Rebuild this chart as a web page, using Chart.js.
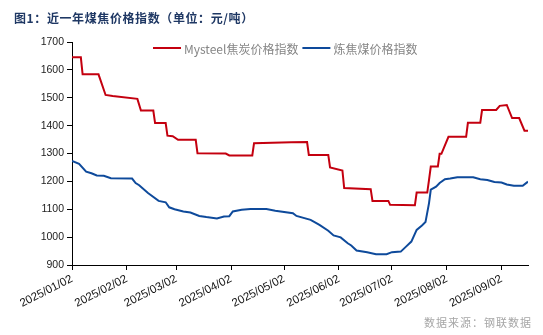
<!DOCTYPE html>
<html>
<head>
<meta charset="utf-8">
<script src="https://cdn.jsdelivr.net/npm/chart.js@4.4.1/dist/chart.umd.min.js"></script>
<style>
  html, body { margin: 0; padding: 0; background: #fff; }
  #wrap { position: relative; width: 543px; height: 335px; overflow: hidden; }
  canvas { position: absolute; left: 0; top: 0; }
  #title { position: absolute; left: 14px; top: 9px; font: bold 12px "Noto Sans CJK SC"; color: #1f3864; letter-spacing: 0.6px; white-space: nowrap; line-height: 17px; }
  #source { position: absolute; right: 11px; top: 314px; font: 11px "Noto Sans CJK SC"; color: #a6a6a6; letter-spacing: 1px; white-space: nowrap; line-height: 16px; }
</style>
</head>
<body>
<div id="wrap">
  <canvas id="chart" width="543" height="335"></canvas>
  <div id="title">图1：近一年煤焦价格指数（单位：元/吨）</div>
  <div id="source">数据来源：钢联数据</div>
</div>
<script>
// Mysteel 焦炭价格指数 (元/吨)
const cokeDates = ['2025-01-02','2025-01-07','2025-01-08','2025-01-17','2025-01-21','2025-01-25','2025-02-08','2025-02-10','2025-02-17','2025-02-18','2025-02-24','2025-02-25','2025-02-28','2025-03-03','2025-03-13','2025-03-14','2025-03-30','2025-04-01','2025-04-14','2025-04-15','2025-05-06','2025-05-15','2025-05-16','2025-05-27','2025-05-28','2025-06-04','2025-06-05','2025-06-20','2025-06-21','2025-06-30','2025-07-01','2025-07-15','2025-07-16','2025-07-22','2025-07-23','2025-07-24','2025-07-28','2025-07-29','2025-07-30','2025-08-03','2025-08-13','2025-08-14','2025-08-21','2025-08-22','2025-08-30','2025-09-01','2025-09-05','2025-09-08','2025-09-12','2025-09-15','2025-09-17'];
const cokeValues = [1645,1645,1584,1584,1510,1506,1496,1454,1454,1409,1409,1364,1362,1349,1349,1301,1300,1293,1293,1337,1340,1341,1295,1295,1250,1239,1176,1172,1130,1130,1116,1114,1160,1160,1205,1253,1253,1299,1299,1360,1360,1410,1410,1456,1456,1471,1474,1427,1427,1382,1382];

// 炼焦煤价格指数 (元/吨)
const coalDates = ['2025-01-02','2025-01-06','2025-01-10','2025-01-13','2025-01-16','2025-01-20','2025-01-24','2025-02-05','2025-02-07','2025-02-09','2025-02-14','2025-02-20','2025-02-24','2025-02-26','2025-03-01','2025-03-06','2025-03-10','2025-03-15','2025-03-19','2025-03-25','2025-03-29','2025-04-01','2025-04-03','2025-04-08','2025-04-13','2025-04-22','2025-04-27','2025-05-07','2025-05-09','2025-05-17','2025-05-22','2025-05-27','2025-05-30','2025-06-03','2025-06-07','2025-06-09','2025-06-12','2025-06-18','2025-06-23','2025-06-29','2025-07-02','2025-07-07','2025-07-10','2025-07-13','2025-07-16','2025-07-19','2025-07-21','2025-07-23','2025-07-24','2025-07-27','2025-07-29','2025-08-01','2025-08-04','2025-08-08','2025-08-17','2025-08-21','2025-08-25','2025-08-29','2025-09-02','2025-09-05','2025-09-09','2025-09-14','2025-09-17'];
const coalValues = [1273,1263,1235,1229,1221,1220,1211,1210,1194,1186,1158,1130,1125,1107,1100,1092,1088,1076,1072,1067,1074,1075,1092,1098,1101,1101,1095,1086,1076,1062,1044,1023,1006,999,978,970,952,946,939,939,946,948,966,984,1026,1042,1054,1122,1170,1181,1194,1208,1210,1215,1215,1208,1205,1198,1196,1189,1184,1184,1199];

// x-axis tick dates and their labels
const xTickDates = ['2025-01-02','2025-02-02','2025-03-02','2025-04-02','2025-05-02','2025-06-02','2025-07-02','2025-08-02','2025-09-02'];
const xTickLabels = ['2025/01/02','2025/02/02','2025/03/02','2025/04/02','2025/05/02','2025/06/02','2025/07/02','2025/08/02','2025/09/02'];
const xEndDate = '2025-09-17';

// y-axis range
const yMin = 900, yMax = 1700, yStep = 100;

const seriesNames = ['Mysteel焦炭价格指数', '炼焦煤价格指数'];

const ORIGIN = Date.UTC(2025, 0, 2);
const dayOf = d => (Date.parse(d + 'T00:00:00Z') - ORIGIN) / 86400000;
const toPoints = (dates, vals) => dates.map((d, i) => ({ x: dayOf(d), y: vals[i] }));
const tickDays = xTickDates.map(dayOf);
const labelOf = {};
tickDays.forEach((d, i) => { labelOf[d] = xTickLabels[i]; });

// legend drawn inside the top of the plot
const inlineLegend = {
  id: 'inlineLegend',
  afterDraw(chart) {
    const ctx = chart.ctx;
    ctx.save();
    ctx.font = '12px "Noto Sans CJK SC"';
    ctx.textBaseline = 'middle';
    let x = 153;
    const y = 48;
    chart.data.datasets.forEach(ds => {
      ctx.strokeStyle = ds.borderColor;
      ctx.lineWidth = 2;
      ctx.beginPath();
      ctx.moveTo(x, y);
      ctx.lineTo(x + 28, y);
      ctx.stroke();
      ctx.fillStyle = '#858585';
      ctx.fillText(ds.label, x + 31, y + 1);
      x += 31 + ctx.measureText(ds.label).width + 4;
    });
    ctx.restore();
  }
};

const tickFont = { family: '"Liberation Sans", Arial, sans-serif', size: 10.5 };

new Chart(document.getElementById('chart'), {
  type: 'line',
  data: {
    datasets: [
      { label: seriesNames[0], data: toPoints(cokeDates, cokeValues), borderColor: '#c4000f', borderWidth: 2, pointRadius: 0, tension: 0 },
      { label: seriesNames[1], data: toPoints(coalDates, coalValues), borderColor: '#0e4a9b', borderWidth: 2, pointRadius: 0, tension: 0 }
    ]
  },
  options: {
    responsive: false,
    animation: false,
    layout: { padding: { top: 42, right: 15, left: 0, bottom: 0 } },
    plugins: { legend: { display: false }, tooltip: { enabled: false }, title: { display: false } },
    scales: {
      x: {
        type: 'linear',
        min: 0,
        max: dayOf(xEndDate),
        grid: { drawOnChartArea: false, drawTicks: true, tickLength: 5, color: '#000' },
        border: { color: '#000', width: 1 },
        afterBuildTicks: s => { s.ticks = tickDays.map(v => ({ value: v })); },
        afterFit: s => { s.height = 70; },
        ticks: {
          autoSkip: false, minRotation: 27, maxRotation: 27, padding: 2,
          font: { family: tickFont.family, size: 11.5 }, color: '#111',
          callback: v => labelOf[v] || ''
        }
      },
      y: {
        min: yMin, max: yMax,
        grid: { drawOnChartArea: false, drawTicks: true, tickLength: 5, color: '#000' },
        border: { color: '#000', width: 1 },
        afterFit: s => { s.width = 72; },
        ticks: { stepSize: yStep, padding: 3, font: tickFont, color: '#222', callback: v => String(v) }
      }
    }
  },
  plugins: [inlineLegend]
});
</script>
</body>
</html>
